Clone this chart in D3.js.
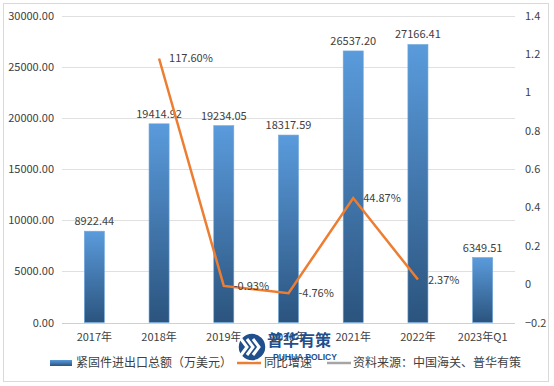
<!DOCTYPE html>
<html>
<head>
<meta charset="utf-8">
<script src="https://cdn.jsdelivr.net/npm/d3@7"></script>
<style>
body { margin: 0; background: #fff; }
svg text { font-family: "Microsoft YaHei", "Noto Sans CJK SC", sans-serif; fill: #404040; }
</style>
</head>
<body>
<svg width="554" height="386"></svg>
<script>
// Data
var years = ["2017年", "2018年", "2019年", "2020年", "2021年", "2022年", "2023年Q1"];
var totals = [8922.44, 19414.92, 19234.05, 18317.59, 26537.20, 27166.41, 6349.51];
var growth = [null, 1.176, -0.0093, -0.0476, 0.4487, 0.0237, null];
var growthLabels = [null, "117.60%", "-0.93%", "-4.76%", "44.87%", "2.37%", null];
var leftTicks = [0, 5000, 10000, 15000, 20000, 25000, 30000];
var rightTicks = [-0.2, 0, 0.2, 0.4, 0.6, 0.8, 1, 1.2, 1.4];

var svg = d3.select("svg"),
	margin = { left: 62, right: 515, top: 15.5, bottom: 322.5 };

// outer frame
svg.append("rect")
	.attr("x", 3.5).attr("y", 3.5)
	.attr("width", 545).attr("height", 378)
	.attr("fill", "#fff").attr("stroke", "#d9d9d9");

// Scales
var x = d3.scaleBand().domain(years).range([margin.left, margin.right]).paddingInner(0.69).paddingOuter(0.345);
var y = d3.scaleLinear().domain([0, 30000]).range([margin.bottom, margin.top]);
var y2 = d3.scaleLinear().domain([-0.2, 1.4]).range([margin.bottom, margin.top]);

// Gradient for bars
var grad = svg.append("defs").append("linearGradient")
	.attr("id", "barGrad").attr("x1", 0).attr("y1", 0).attr("x2", 0).attr("y2", 1);
grad.append("stop").attr("offset", "0%").attr("stop-color", "#5a9bdc");
grad.append("stop").attr("offset", "100%").attr("stop-color", "#2b547e");

// Gridlines
svg.append("g")
	.selectAll("line")
	.data(leftTicks)
	.enter().append("line")
	.attr("x1", margin.left).attr("x2", margin.right)
	.attr("y1", (d) => Math.round(y(d)) + 0.5).attr("y2", (d) => Math.round(y(d)) + 0.5)
	.attr("stroke", (d) => d == 0 ? "#d0d0d0" : "#e0e0e0");

// Left axis
var yAxis = svg.append("g")
	.attr("transform", "translate(" + margin.left + ",0)")
	.call(d3.axisLeft(y).tickValues(leftTicks).tickFormat(d3.format(".2f")).tickSize(0).tickPadding(8));
yAxis.select(".domain").remove();
yAxis.selectAll("text").style("font-size", "11px").attr("fill", "#404040");

// Right axis
var yAxis2 = svg.append("g")
	.attr("transform", "translate(" + margin.right + ",0)")
	.call(d3.axisRight(y2).tickValues(rightTicks).tickFormat((d) => d3.format("")(+d.toFixed(1))).tickSize(0).tickPadding(10));
yAxis2.select(".domain").remove();
yAxis2.selectAll("text").style("font-size", "11px").attr("fill", "#404040");

// X axis
var xAxis = svg.append("g")
	.attr("transform", "translate(0," + margin.bottom + ")")
	.call(d3.axisBottom(x).tickSize(0).tickPadding(11));
xAxis.select(".domain").remove();
xAxis.selectAll("text").style("font-size", "11px").attr("fill", "#404040");

// Bars
svg.append("g")
	.selectAll("rect")
	.data(totals)
	.enter().append("rect")
	.attr("x", (d, i) => x(years[i]))
	.attr("y", (d) => y(d))
	.attr("width", x.bandwidth())
	.attr("height", (d) => y(0) - y(d))
	.attr("fill", "url(#barGrad)")
	.attr("stroke", "#6fa8dc").attr("stroke-width", 0.6);

// Bar labels
svg.append("g")
	.selectAll("text")
	.data(totals)
	.enter().append("text")
	.attr("x", (d, i) => x(years[i]) + x.bandwidth() / 2)
	.attr("y", (d) => y(d) - 6)
	.attr("text-anchor", "middle")
	.style("font-size", "11px")
	.text((d) => d.toFixed(2));

// Line
var pts = growth.map((d, i) => ({ v: d, cat: years[i], label: growthLabels[i] })).filter((d) => d.v != null);
var line = d3.line()
	.x((d) => x(d.cat) + x.bandwidth() / 2)
	.y((d) => y2(d.v));
svg.append("path")
	.datum(pts)
	.attr("d", line)
	.attr("fill", "none")
	.attr("stroke", "#ed7d31")
	.attr("stroke-width", 2.5);

svg.append("g")
	.selectAll("text")
	.data(pts)
	.enter().append("text")
	.attr("x", (d) => x(d.cat) + x.bandwidth() / 2 + 10)
	.attr("y", (d) => y2(d.v) + 4)
	.style("font-size", "11px")
	.text((d) => d.label);

// Legend
var lg = svg.append("g");
lg.append("rect").attr("x", 50).attr("y", 360).attr("width", 22).attr("height", 6).attr("fill", "url(#barGrad)");
lg.append("text").attr("x", 76).attr("y", 367).style("font-size", "12px").text("紧固件进出口总额（万美元）");
lg.append("line").attr("x1", 237).attr("x2", 261).attr("y1", 363).attr("y2", 363).attr("stroke", "#ed7d31").attr("stroke-width", 2.5);
lg.append("text").attr("x", 264).attr("y", 367).style("font-size", "12px").text("同比增速");
lg.append("line").attr("x1", 327).attr("x2", 351).attr("y1", 363).attr("y2", 363).attr("stroke", "#a5a5a5").attr("stroke-width", 2.5);
lg.append("text").attr("x", 353).attr("y", 367).style("font-size", "12px").text("资料来源：中国海关、普华有策");

// Watermark logo
var logo = svg.append("g");
logo.append("circle").attr("cx", 252).attr("cy", 347).attr("r", 14).attr("fill", "#1f4f8c").attr("stroke", "#fff").attr("stroke-width", 1.5);
[-6, 0, 6].forEach(function (dx) {
	logo.append("path")
		.attr("d", "M" + (247 + dx) + ",339 L" + (253 + dx) + ",347 L" + (247 + dx) + ",355")
		.attr("fill", "none").attr("stroke", "#fff").attr("stroke-width", 3);
});
logo.append("text").attr("x", 267).attr("y", 346)
	.style("font-size", "16px").style("font-weight", "bold").style("fill", "#1f4f8c")
	.text("普华有策");
logo.append("text").attr("x", 273).attr("y", 360)
	.style("font-size", "8.5px").style("font-weight", "bold").style("fill", "#1f4f8c")
	.style("font-family", "Arial, 'Liberation Sans', sans-serif")
	.text("PUHUA POLICY");
</script>
</body>
</html>
